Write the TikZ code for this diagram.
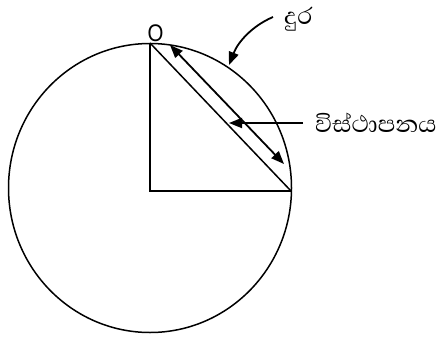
\documentclass[tikz,border=0pt]{standalone}
\usepackage{fontspec}
\setmainfont{Liberation Sans}
\newfontfamily\sinhala[Script=Sinhala]{Abhaya Libre}
\usetikzlibrary{arrows.meta}
\begin{document}
\begin{tikzpicture}[x=1pt,y=-1pt,
  line/.style={line width=1.5pt},
  arr/.style={line width=1.8pt,-{Triangle[length=13pt,width=10pt]}},
  darr/.style={line width=1.8pt,{Triangle[length=13pt,width=10pt]}-{Triangle[length=13pt,width=10pt]}},
  lbl/.style={inner sep=0pt}]
\useasboundingbox (0,0) rectangle (441,337);
\coordinate (C) at (150,188);
\coordinate (T) at (150,43);
\coordinate (R) at (291,191);
\coordinate (A) at (150,191);
\draw[line] (C) ellipse [x radius=141.5, y radius=144.5];
\draw[line] (T) -- (A) -- (R);
\draw[line] (T) -- (R);
\node[lbl] (o) at (155.5,33) {\scalebox{0.85}[1]{\fontsize{24}{24}\selectfont O}};
\node[lbl,anchor=west] (dur) at (284,19) {\sinhala\fontsize{30}{30}\selectfont දුර};
\node[lbl,anchor=west] (vis) at (315,123) {\sinhala\fontsize{30}{30}\selectfont විස්ථාපනය};
\coordinate (c1) at (273,17);
\coordinate (c2) at (229,65);
\draw[arr] (c1) .. controls (252,26) and (238,42) .. (c2);
\coordinate (d1) at (170,45);
\coordinate (d2) at (284,164);
\draw[darr] (d1) -- (d2);
\coordinate (h1) at (303,123);
\coordinate (h2) at (229,123);
\draw[arr] (h1) -- (h2);
\end{tikzpicture}
\end{document}
